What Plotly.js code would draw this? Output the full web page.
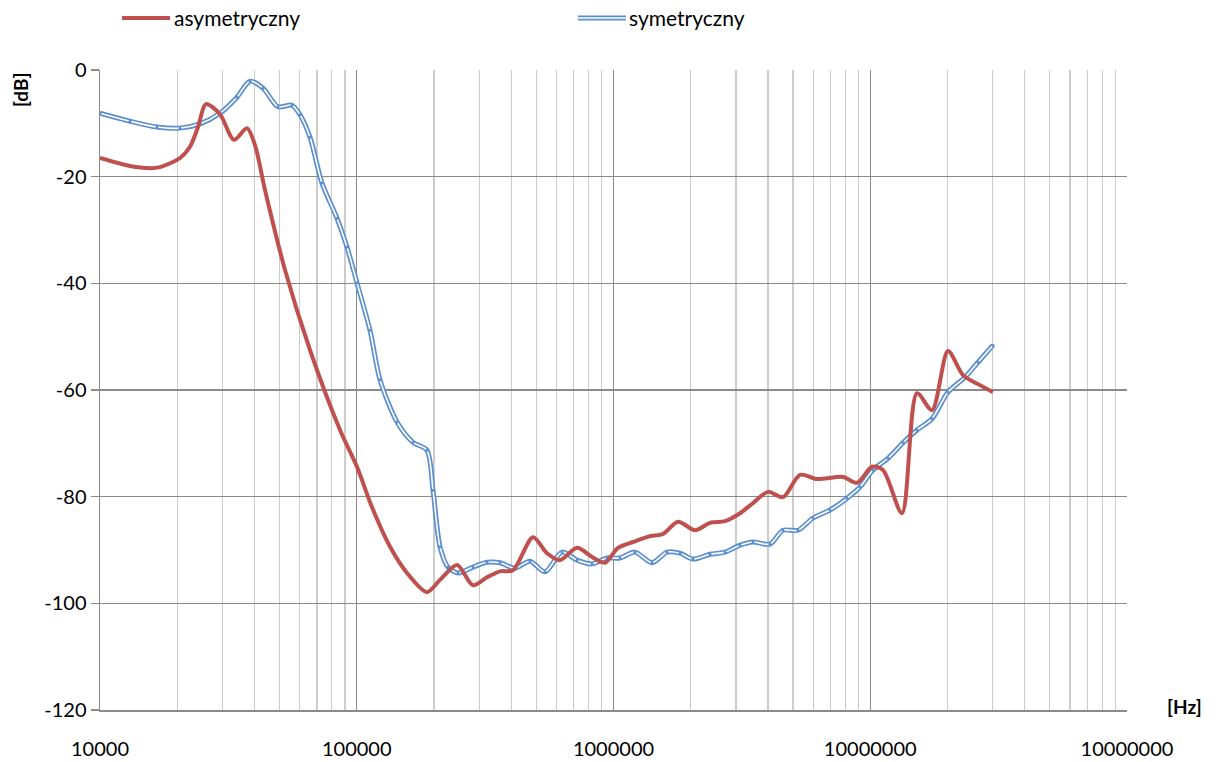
<!DOCTYPE html>
<html>
<head>
<meta charset="utf-8">
<script src="https://cdn.plot.ly/plotly-3.0.1.min.js"></script>
<style>html,body{margin:0;padding:0;background:#fff;}#chart{width:1216px;height:762px;}</style>
</head>
<body>
<div id="chart"></div>
<script>
// asymetryczny (red)
const asymFreq = [10000, 13090, 15650, 17130, 20500, 22410, 24080, 25870, 29340, 33260, 37370, 40150, 43920, 52550, 65750, 86060, 100200, 114700, 134800, 156900, 187700, 211000, 245800, 283700, 321700, 361400, 406100, 485800, 550800, 618800, 720900, 824800, 926700, 1041000, 1191000, 1388000, 1559000, 1784000, 2077000, 2376000, 2719000, 3110000, 3494000, 3997000, 4573000, 5327000, 6202000, 7833000, 8881000, 10160000, 11210000, 13290000, 15210000, 17400000, 20080000, 22970000, 26290000, 30070000];
const asymDb = [-16.5, -18.0, -18.4, -18.2, -16.5, -14.4, -10.7, -6.4, -8.3, -13.1, -10.9, -14.1, -22.5, -37.5, -52.5, -67.5, -74.4, -82.0, -89.4, -94.3, -97.9, -95.6, -92.8, -96.6, -95.1, -94.0, -93.8, -87.6, -90.6, -91.9, -89.6, -91.3, -92.4, -89.6, -88.5, -87.4, -87.0, -84.7, -86.3, -84.9, -84.6, -83.1, -81.2, -79.1, -80.1, -75.9, -76.7, -76.3, -77.4, -74.4, -75.0, -83.1, -60.6, -63.8, -52.7, -57.2, -58.9, -60.4];

// symetryczny (blue)
const symFreq = [10000, 13090, 16670, 20500, 24520, 29340, 34170, 38390, 43140, 49350, 55950, 60120, 65750, 73220, 83770, 91620, 100200, 112600, 123200, 143500, 165600, 187700, 198200, 211000, 226600, 248000, 283700, 321700, 361400, 413400, 472900, 541000, 630100, 720900, 824800, 943500, 1060000, 1213000, 1413000, 1616000, 1816000, 2040000, 2376000, 2719000, 3110000, 3494000, 4069000, 4573000, 5232000, 5984000, 6970000, 8121000, 9123000, 10250000, 11730000, 13420000, 15210000, 17400000, 20080000, 23390000, 26290000, 30070000];
const symDb = [-8.1, -9.6, -10.7, -10.9, -10.1, -8.1, -5.1, -2.1, -3.4, -6.9, -6.6, -8.4, -12.6, -21.2, -27.8, -33.2, -39.9, -48.8, -58.1, -66.0, -69.8, -71.3, -78.8, -89.4, -93.2, -94.3, -93.2, -92.3, -92.4, -93.4, -92.1, -94.1, -90.4, -91.9, -92.6, -91.5, -91.5, -90.4, -92.4, -90.4, -90.6, -91.7, -90.8, -90.4, -89.1, -88.5, -88.9, -86.3, -86.3, -84.0, -82.5, -80.3, -78.2, -75.0, -72.8, -69.9, -67.5, -65.4, -60.4, -57.6, -54.8, -51.6];

const xTickVals = [10000, 100000, 1000000, 10000000, 100000000];
const xTickText = ['10000', '100000', '1000000', '10000000', '10000000'];
const yTickVals = [0, -20, -40, -60, -80, -100, -120];
const yTickText = ['0', '-20', '-40', '-60', '-80', '-100', '-120'];

const seriesNames = ['asymetryczny', 'symetryczny'];

const FONT = 'Lato, "Open Sans", sans-serif';
const RED = '#c0504d';
const BLUE = '#5b8fcf';

// minor gridline positions: 2..9 within each decade
const minorVals = [];
for (let d = 4; d < 8; d++) { for (let m = 2; m <= 9; m++) { minorVals.push(m * Math.pow(10, d)); } }

const traces = [
  {x: symFreq, y: symDb, mode: 'lines', line: {color: BLUE, width: 5, shape: 'spline', smoothing: 0.8}, showlegend: false, hoverinfo: 'skip'},
  {x: symFreq, y: symDb, mode: 'lines+markers', line: {color: '#ffffff', width: 1.6, shape: 'spline', smoothing: 0.8}, marker: {color: BLUE, size: 3}, showlegend: false, name: seriesNames[1]},
  {x: asymFreq, y: asymDb, mode: 'lines', line: {color: RED, width: 4, shape: 'spline', smoothing: 0.8}, showlegend: false, name: seriesNames[0]}
];

const layout = {
  width: 1216, height: 762,
  margin: {l: 100, r: 89, t: 70, b: 52},
  paper_bgcolor: '#fff', plot_bgcolor: '#fff',
  font: {family: FONT, size: 20, color: '#000'},
  showlegend: false,
  xaxis: {
    type: 'log', range: [4, 8],
    tickvals: xTickVals, ticktext: xTickText,
    showgrid: true, gridcolor: '#8a8a8a', gridwidth: 1.3,
    minor: {tickmode: 'array', tickvals: minorVals, showgrid: true, gridcolor: '#cccccc', gridwidth: 1.2},
    ticks: 'outside', ticklen: 20, tickcolor: 'rgba(0,0,0,0)',
    showline: true, linecolor: '#8a8a8a', linewidth: 1.5,
    zeroline: false, tickfont: {family: FONT, size: 20}
  },
  yaxis: {
    range: [-120, 0],
    tickvals: yTickVals, ticktext: yTickText,
    showgrid: true, gridcolor: '#8a8a8a', gridwidth: 1.3,
    ticks: 'outside', ticklen: 8, tickcolor: '#8a8a8a', tickwidth: 1.3,
    showline: true, linecolor: '#8a8a8a', linewidth: 1.5,
    zeroline: false, tickfont: {family: FONT, size: 20}
  },
  shapes: [
    {type: 'line', xref: 'paper', yref: 'paper', x0: (122-100)/1027, x1: (170-100)/1027, y0: 1 + 52/640, y1: 1 + 52/640, line: {color: RED, width: 4}},
    {type: 'line', xref: 'paper', yref: 'paper', x0: (578-100)/1027, x1: (626-100)/1027, y0: 1 + 52/640, y1: 1 + 52/640, line: {color: BLUE, width: 5}},
    {type: 'line', xref: 'paper', yref: 'paper', x0: (578-100)/1027, x1: (626-100)/1027, y0: 1 + 52/640, y1: 1 + 52/640, line: {color: '#ffffff', width: 1.6}}
  ],
  annotations: [
    {text: seriesNames[0], xref: 'paper', yref: 'paper', x: (172-100)/1027, y: 1 + 52/640, xanchor: 'left', yanchor: 'middle', showarrow: false, font: {family: FONT, size: 21, color: '#000'}},
    {text: seriesNames[1], xref: 'paper', yref: 'paper', x: (627-100)/1027, y: 1 + 52/640, xanchor: 'left', yanchor: 'middle', showarrow: false, font: {family: FONT, size: 21, color: '#000'}},
    {text: '<b>[dB]</b>', xref: 'paper', yref: 'paper', x: (20-100)/1027, y: 1 - 20/640, textangle: -90, xanchor: 'center', yanchor: 'middle', showarrow: false, font: {family: FONT, size: 19, color: '#000'}},
    {text: '<b>[Hz]</b>', xref: 'paper', yref: 'paper', x: (1184-100)/1027, y: 4/640, xanchor: 'center', yanchor: 'middle', showarrow: false, font: {family: FONT, size: 19, color: '#000'}}
  ]
};

Plotly.newPlot('chart', traces, layout, {displayModeBar: false, staticPlot: true});
</script>
</body>
</html>
